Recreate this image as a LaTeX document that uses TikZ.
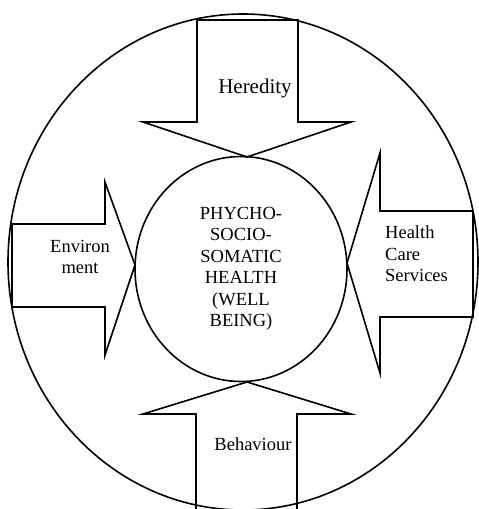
\documentclass[tikz,border=0pt]{standalone}
\usepackage{fontspec}
\setmainfont{Liberation Serif}
\usetikzlibrary{shapes.geometric, positioning}

\begin{document}
\begin{tikzpicture}[x=1pt,y=-1pt,
  outline/.style={draw=black,line width=1.6pt,line join=miter},
  factor/.style={font=\fontsize{18.5}{21.5}\selectfont,inner sep=0pt},
  core/.style={outline,ellipse,minimum width=212pt,minimum height=225pt,inner sep=0pt,align=center,font=\fontsize{18.5}{21.5}\selectfont}
]
\useasboundingbox (0,0) rectangle (479,509);

% outer boundary
\draw[outline] (243,262) ellipse [x radius=235, y radius=248];

% centre
\node[core] (health) at (241,269) {PHYCHO-\\SOCIO-\\SOMATIC\\HEALTH\\(WELL\\BEING)};

% block arrows pointing to the centre
\draw[outline] (197,20) -- (197,122) -- (143,122) -- (247,157) -- (351,122) -- (298,122) -- (298,20) -- cycle;
\draw[outline] (12,224) -- (105,224) -- (105,182) -- (135,265) -- (105,355) -- (105,307) -- (12,307) -- cycle;
\draw[outline] (473,211) -- (380,211) -- (380,153) -- (347,263) -- (380,373) -- (380,317) -- (473,317) -- cycle;
\draw[outline] (196,512) -- (196,414) -- (143,414) -- (247,382) -- (351,414) -- (297,414) -- (297,512);

% labels
\node[factor,font=\fontsize{21}{24}\selectfont] (heredity) at (255,88) {Heredity};
\node[factor,align=center] (environment) at (80,257) {Environ\\ment};
\node[factor,align=left,anchor=west] (services) at (385,254) {Health\\Care\\Services};
\node[factor] (behaviour) at (253,444) {Behaviour};
\end{tikzpicture}
\end{document}
